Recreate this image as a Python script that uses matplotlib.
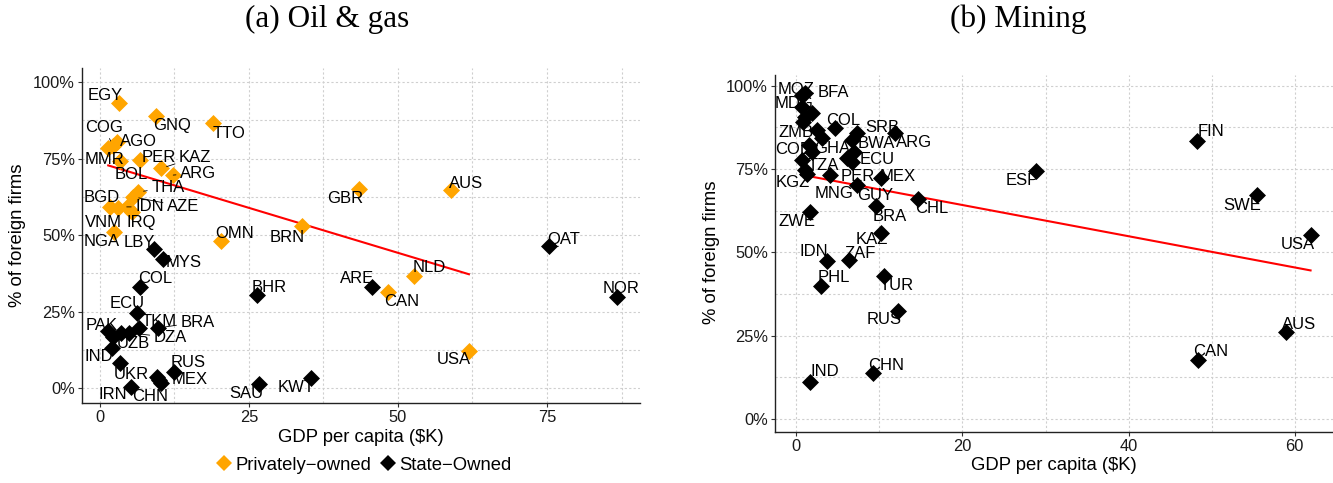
import numpy as np
import matplotlib
matplotlib.use("Agg")
import matplotlib.pyplot as plt
from matplotlib.ticker import MultipleLocator, FuncFormatter
from matplotlib.lines import Line2D

plt.rcParams['font.family'] = ['Liberation Sans', 'DejaVu Sans']

# ---------------- Oil & gas: privately-owned firms ----------------
oil_priv_iso = ["EGY", "GNQ", "TTO", "COG", "AGO", "MMR", "BOL", "PER", "KAZ", "ARG",
                "THA", "AZE", "IDN", "BGD", "VNM", "IRQ", "NGA", "OMN", "BRN", "GBR",
                "AUS", "NLD", "CAN", "USA"]
oil_priv_gdp = [3.2, 9.4, 19.0, 2.2, 2.8, 1.4, 3.4, 6.7, 10.3, 12.3,
                6.4, 5.6, 4.5, 1.7, 3.1, 5.4, 2.3, 20.3, 33.9, 43.5,
                58.9, 52.7, 48.3, 61.9]
oil_priv_share = [93.1, 88.9, 86.6, 79.1, 80.5, 78.3, 74.2, 74.5, 71.8, 69.6,
                  64.1, 62.5, 59.2, 59.2, 58.7, 57.5, 51.0, 48.0, 52.9, 65.0,
                  64.7, 36.6, 31.4, 12.1]

# ---------------- Oil & gas: state-owned firms ----------------
oil_state_iso = ["LBY", "MYS", "COL", "BHR", "ECU", "TKM", "BRA", "PAK", "", "DZA",
                 "", "UZB", "IND", "UKR", "CHN", "MEX", "RUS", "IRN", "SAU", "KWT",
                 "ARE", "QAT", "NOR"]
oil_state_gdp = [9.1, 10.6, 6.7, 26.3, 6.2, 6.5, 9.7, 1.4, 2.2, 4.8,
                 3.6, 2.0, 3.4, 9.5, 9.9, 10.3, 12.4, 5.2, 26.7, 35.4,
                 45.6, 75.3, 86.7]
oil_state_share = [45.4, 42.2, 33.0, 30.4, 24.5, 19.6, 19.6, 18.6, 16.6, 18.1,
                   17.9, 13.0, 8.2, 3.7, 2.6, 1.7, 5.3, 0.4, 1.3, 3.3,
                   33.0, 46.4, 29.7]

# ---------------- Mining ----------------
mine_iso = ["MOZ", "BFA", "MDG", "", "", "", "ZMB", "COL", "SRB", "ARG",
            "BWA", "", "COD", "GHA", "ECU", "PER", "", "", "TZA", "KGZ",
            "MNG", "GUY", "MEX", "BRA", "KAZ", "CHL", "ZWE", "IDN", "ZAF", "PHL",
            "TUR", "RUS", "CHN", "IND", "ESP", "FIN", "SWE", "USA", "AUS", "CAN"]
mine_gdp = [0.66, 1.06, 0.66, 1.9, 1.06, 0.86, 2.5, 4.7, 7.3, 11.9,
            6.7, 3.1, 1.5, 1.9, 6.9, 6.1, 6.7, 0.66, 1.06, 1.3,
            4.1, 7.3, 10.2, 9.6, 10.2, 14.6, 1.7, 3.7, 6.4, 3.0,
            10.5, 12.3, 9.2, 1.7, 28.9, 48.2, 55.4, 61.9, 58.9, 48.3]
mine_share = [97.2, 97.7, 93.7, 91.7, 90.7, 89.2, 86.7, 87.2, 85.7, 85.7,
              83.7, 84.2, 82.2, 80.2, 80.2, 78.2, 77.2, 77.7, 74.7, 73.5,
              73.2, 70.2, 72.2, 64.0, 55.9, 66.0, 62.0, 47.5, 47.7, 39.9,
              42.9, 32.5, 13.7, 11.2, 74.4, 83.5, 67.2, 55.2, 26.0, 17.7]

# label placement: (dx, dy) in pixels from the marker, and whether to draw a leader
oil_label_pos = {
    "EGY": (-14, 8, False), "GNQ": (16, -9, False), "TTO": (16, -10, False),
    "COG": (-9, 19, True), "AGO": (22, 0, False), "MMR": (-4, -11, False),
    "BOL": (11, -13, True), "PER": (19, 3, False), "KAZ": (34, 11, True),
    "ARG": (25, 2, True), "THA": (30, 4, True), "AZE": (50, -10, True),
    "IDN": (23, 0, True), "BGD": (-8, 9, False), "VNM": (-15, -14, False),
    "IRQ": (9, -10, False), "NGA": (-12, -10, False), "OMN": (14, 8, False),
    "BRN": (-15, -11, False), "GBR": (-14, -9, False), "AUS": (15, 7, False),
    "NLD": (15, 9, False), "CAN": (14, -10, False), "USA": (-15, -9, False),
    "LBY": (-15, 7, False), "MYS": (21, -4, False), "COL": (15, 9, False),
    "BHR": (13, 8, False), "ECU": (-10, 10, False), "TKM": (21, 7, False),
    "BRA": (40, 6, True), "PAK": (-7, 6, False), "DZA": (42, -5, True),
    "UZB": (22, 5, False), "IND": (-21, 6, False), "UKR": (-25, 2, False),
    "CHN": (-9, -16, True), "MEX": (28, 3, True), "RUS": (14, 9, False),
    "IRN": (-18, -8, False), "SAU": (-13, -9, False), "KWT": (-15, -10, False),
    "ARE": (-15, 9, False), "QAT": (15, 7, False), "NOR": (4, 9, False),
}
mine_label_pos = {
    "MOZ": (-6, 6, False), "BFA": (28, 1, True), "MDG": (-8, 3, False),
    "ZMB": (-21, -2, False), "COL": (8, 8, False), "SRB": (25, 6, True),
    "ARG": (19, -9, False), "BWA": (24, -3, False), "COD": (-15, -4, False),
    "GHA": (20, 3, False), "ECU": (24, -8, False), "PER": (11, -18, True),
    "TZA": (18, 5, False), "KGZ": (-14, -8, False), "MNG": (4, -18, False),
    "GUY": (18, -10, False), "MEX": (17, 2, False), "BRA": (14, -11, False),
    "KAZ": (-9, -7, False), "CHL": (14, -9, False), "ZWE": (-13, -9, False),
    "IDN": (-13, 9, False), "ZAF": (11, 7, False), "PHL": (13, 9, False),
    "TUR": (13, -9, False), "RUS": (-14, -9, False), "CHN": (13, 8, False),
    "IND": (14, 10, False), "ESP": (-14, -9, False), "FIN": (14, 9, False),
    "SWE": (-14, -10, False), "USA": (-13, -9, False), "AUS": (13, 8, False),
    "CAN": (13, 8, False),
}

PRIV_COLOR = "#FFA500"
STATE_COLOR = "black"
W, H = 1333, 483

fig = plt.figure(figsize=(W / 100, H / 100), dpi=100)


def px_axes(left, top, right, bottom):
    return fig.add_axes([left / W, 1 - bottom / H, (right - left) / W, (bottom - top) / H])


def style_axes(ax, xmajor, xlim, ylim):
    ax.set_xlim(*xlim)
    ax.set_ylim(*ylim)
    ax.xaxis.set_major_locator(MultipleLocator(xmajor))
    ax.xaxis.set_minor_locator(MultipleLocator(xmajor / 2))
    ax.yaxis.set_major_locator(MultipleLocator(25))
    ax.yaxis.set_minor_locator(MultipleLocator(12.5))
    ax.yaxis.set_major_formatter(FuncFormatter(lambda v, p: f"{v:.0f}%"))
    ax.grid(True, which="both", color="#cfcfcf", linestyle=(0, (2, 2)), linewidth=0.8)
    ax.set_axisbelow(True)
    for s in ("top", "right"):
        ax.spines[s].set_visible(False)
    for s in ("left", "bottom"):
        ax.spines[s].set_color("#222222")
        ax.spines[s].set_linewidth(1.0)
    ax.tick_params(which="major", length=3, width=0.8, color="#333333",
                   labelsize=11.8, labelcolor="#1a1a1a", pad=2)
    ax.tick_params(which="minor", length=0)


def label_points(ax, isos, xs, ys, layout):
    for iso, x, y in zip(isos, xs, ys):
        if not iso:
            continue
        dx, dy, leader = layout[iso]
        kw = {}
        if leader:
            kw["arrowprops"] = dict(arrowstyle="-", color="black", lw=0.6,
                                    shrinkA=1, shrinkB=4)
        ax.annotate(iso, (x, y), xytext=(dx, dy), textcoords="offset pixels",
                    ha="center", va="center", fontsize=12, color="black",
                    annotation_clip=False, zorder=4, **kw)


def fit_line(ax, xs, ys):
    xs = np.asarray(xs)
    ys = np.asarray(ys)
    b, a = np.polyfit(xs, ys, 1)
    xx = np.array([xs.min(), xs.max()])
    ax.plot(xx, a + b * xx, color="red", lw=1.5, zorder=2)


MSIZE = 75

# ---- panel (a) ----
ax1 = px_axes(82, 68, 640, 403)
style_axes(ax1, 25, (-3.0, 90.6), (-4.9, 104.6))
ax1.scatter(oil_priv_gdp, oil_priv_share, marker="D", s=MSIZE, color=PRIV_COLOR,
            linewidths=0, zorder=3)
ax1.scatter(oil_state_gdp, oil_state_share, marker="D", s=MSIZE, color=STATE_COLOR,
            linewidths=0, zorder=3)
fit_line(ax1, oil_priv_gdp, oil_priv_share)
label_points(ax1, oil_priv_iso, oil_priv_gdp, oil_priv_share, oil_label_pos)
label_points(ax1, oil_state_iso, oil_state_gdp, oil_state_share, oil_label_pos)

# ---- panel (b) ----
ax2 = px_axes(775, 75, 1333, 432)
style_axes(ax2, 20, (-2.56, 64.6), (-3.9, 103.2))
ax2.scatter(mine_gdp, mine_share, marker="D", s=MSIZE, color=STATE_COLOR,
            linewidths=0, zorder=3)
fit_line(ax2, mine_gdp, mine_share)
label_points(ax2, mine_iso, mine_gdp, mine_share, mine_label_pos)

# ---- titles and axis titles ----
serif = ["Liberation Serif", "DejaVu Serif"]
fig.text(327 / W, 1 - 19 / H, "(a) Oil & gas", family=serif, fontsize=22.5,
         ha="center", va="center")
fig.text(1018 / W, 1 - 19 / H, "(b) Mining", family=serif, fontsize=22.5,
         ha="center", va="center")

fig.text(18 / W, 1 - 235 / H, "% of foreign firms", rotation=90, fontsize=13.3,
         ha="center", va="center")
fig.text(712 / W, 1 - 252 / H, "% of foreign firms", rotation=90, fontsize=13.3,
         ha="center", va="center")
fig.text(361 / W, 1 - 437 / H, "GDP per capita ($K)", fontsize=13.3,
         ha="center", va="center")
fig.text(1054 / W, 1 - 466 / H, "GDP per capita ($K)", fontsize=13.3,
         ha="center", va="center")

handles = [
    Line2D([], [], marker="D", linestyle="none", markersize=8.5,
           markerfacecolor=PRIV_COLOR, markeredgewidth=0),
    Line2D([], [], marker="D", linestyle="none", markersize=8.5,
           markerfacecolor=STATE_COLOR, markeredgewidth=0),
]
fig.legend(handles, ["Privately\u2212owned", "State\u2212Owned"], ncol=2,
           loc="center", bbox_to_anchor=(364 / W, 1 - 465 / H), frameon=False,
           fontsize=13.3, handlelength=0.8, handletextpad=0.2, columnspacing=0.5,
           borderpad=0, borderaxespad=0)

fig.savefig("out.png", dpi=100)
